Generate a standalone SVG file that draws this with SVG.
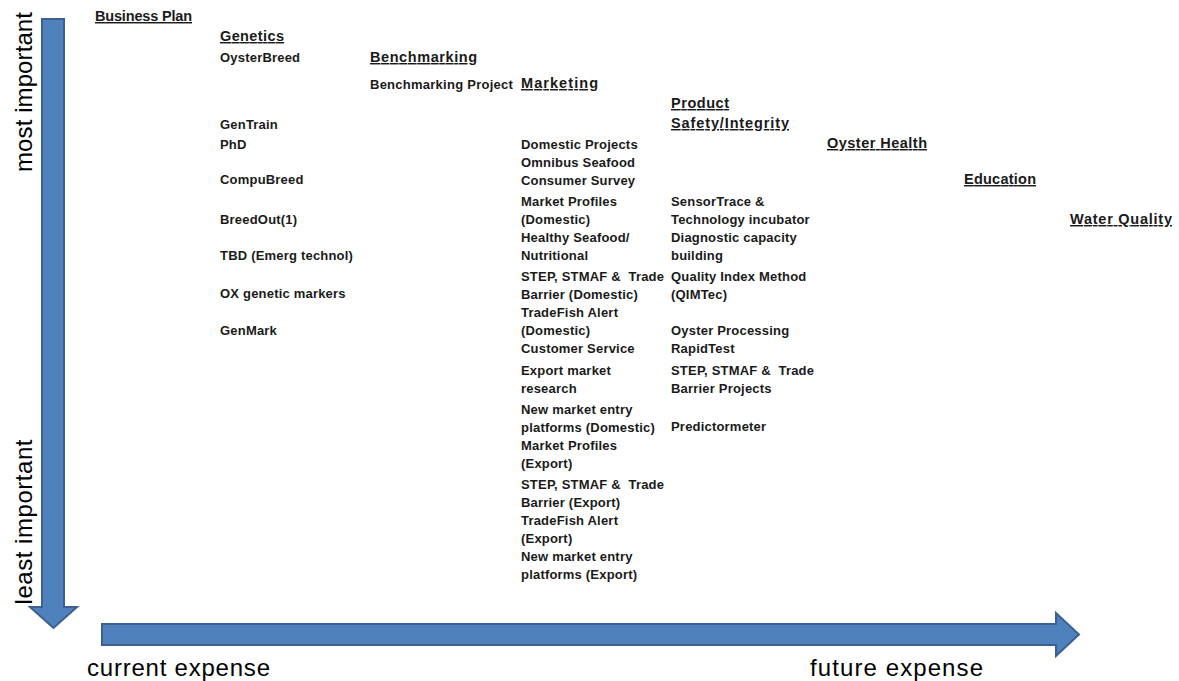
<svg xmlns="http://www.w3.org/2000/svg" width="1179" height="681" viewBox="0 0 1179 681">
  <style>
    text { font-family: "Liberation Sans", Arial, sans-serif; fill: #1a1a1a; white-space: pre; }
    .h { font-size: 14.5px; font-weight: bold; text-decoration: underline; }
    .i { font-size: 13px; font-weight: bold; letter-spacing: 0.2px; }
    .ax { font-size: 24px; fill: #000; }
    .arrow { fill: #4F81BD; stroke: #3B6091; stroke-width: 2; stroke-linejoin: miter; }
  </style>
  <rect width="1179" height="681" fill="#fff"/>

  <!-- axis arrows -->
  <g id="connectors">
    <polygon class="arrow" points="42,19 64,19 64,607 77,607 53.5,628 30,607 42,607"/>
    <polygon class="arrow" points="102,624 1056,624 1056,613 1079,634.5 1056,656 1056,645 102,645"/>
  </g>

  <!-- axis labels -->
  <g id="axis-labels">
    <text class="ax" text-anchor="middle" transform="translate(32,92) rotate(-90)" textLength="160">most important</text>
    <text class="ax" text-anchor="middle" transform="translate(32,522) rotate(-90)" textLength="165">least important</text>
    <text class="ax" x="87" y="676" textLength="183">current expense</text>
    <text class="ax" x="810" y="676" textLength="173">future expense</text>
  </g>

  <g id="business-plan">
    <text class="h" x="95" y="21" textLength="97">Business Plan</text>
  </g>

  <g id="genetics">
    <text class="h" x="220" y="41" textLength="64">Genetics</text>
    <text class="i" x="220" y="62">OysterBreed</text>
    <text class="i" x="220" y="129">GenTrain</text>
    <text class="i" x="220" y="149">PhD</text>
    <text class="i" x="220" y="184">CompuBreed</text>
    <text class="i" x="220" y="224">BreedOut(1)</text>
    <text class="i" x="220" y="260">TBD (Emerg technol)</text>
    <text class="i" x="220" y="298">OX genetic markers</text>
    <text class="i" x="220" y="335">GenMark</text>
  </g>

  <g id="benchmarking">
    <text class="h" x="370" y="62" textLength="107">Benchmarking</text>
    <text class="i" x="370" y="89" textLength="143">Benchmarking Project</text>
  </g>

  <g id="marketing">
    <text class="h" x="521" y="88" textLength="77">Marketing</text>
    <text class="i" x="521" y="149">Domestic Projects</text>
    <text class="i" x="521" y="167">Omnibus Seafood</text>
    <text class="i" x="521" y="185">Consumer Survey</text>
    <text class="i" x="521" y="206">Market Profiles</text>
    <text class="i" x="521" y="224">(Domestic)</text>
    <text class="i" x="521" y="242">Healthy Seafood/</text>
    <text class="i" x="521" y="260">Nutritional</text>
    <text class="i" x="521" y="281">STEP, STMAF &amp;  Trade</text>
    <text class="i" x="521" y="299">Barrier (Domestic)</text>
    <text class="i" x="521" y="317">TradeFish Alert</text>
    <text class="i" x="521" y="335">(Domestic)</text>
    <text class="i" x="521" y="353">Customer Service</text>
    <text class="i" x="521" y="375">Export market</text>
    <text class="i" x="521" y="393">research</text>
    <text class="i" x="521" y="414">New market entry</text>
    <text class="i" x="521" y="432">platforms (Domestic)</text>
    <text class="i" x="521" y="450">Market Profiles</text>
    <text class="i" x="521" y="468">(Export)</text>
    <text class="i" x="521" y="489">STEP, STMAF &amp;  Trade</text>
    <text class="i" x="521" y="507">Barrier (Export)</text>
    <text class="i" x="521" y="525">TradeFish Alert</text>
    <text class="i" x="521" y="543">(Export)</text>
    <text class="i" x="521" y="561">New market entry</text>
    <text class="i" x="521" y="579">platforms (Export)</text>
  </g>

  <g id="product-safety">
    <text class="h" x="671" y="108" textLength="58">Product</text>
    <text class="h" x="671" y="128" textLength="118">Safety/Integrity</text>
    <text class="i" x="671" y="206">SensorTrace &amp;</text>
    <text class="i" x="671" y="224">Technology incubator</text>
    <text class="i" x="671" y="242">Diagnostic capacity</text>
    <text class="i" x="671" y="260">building</text>
    <text class="i" x="671" y="281">Quality Index Method</text>
    <text class="i" x="671" y="299">(QIMTec)</text>
    <text class="i" x="671" y="335">Oyster Processing</text>
    <text class="i" x="671" y="353">RapidTest</text>
    <text class="i" x="671" y="375">STEP, STMAF &amp;  Trade</text>
    <text class="i" x="671" y="393">Barrier Projects</text>
    <text class="i" x="671" y="431">Predictormeter</text>
  </g>

  <g id="oyster-health">
    <text class="h" x="827" y="148" textLength="100">Oyster Health</text>
  </g>

  <g id="education">
    <text class="h" x="964" y="184" textLength="72">Education</text>
  </g>

  <g id="water-quality">
    <text class="h" x="1070" y="224" textLength="102">Water Quality</text>
  </g>
</svg>
